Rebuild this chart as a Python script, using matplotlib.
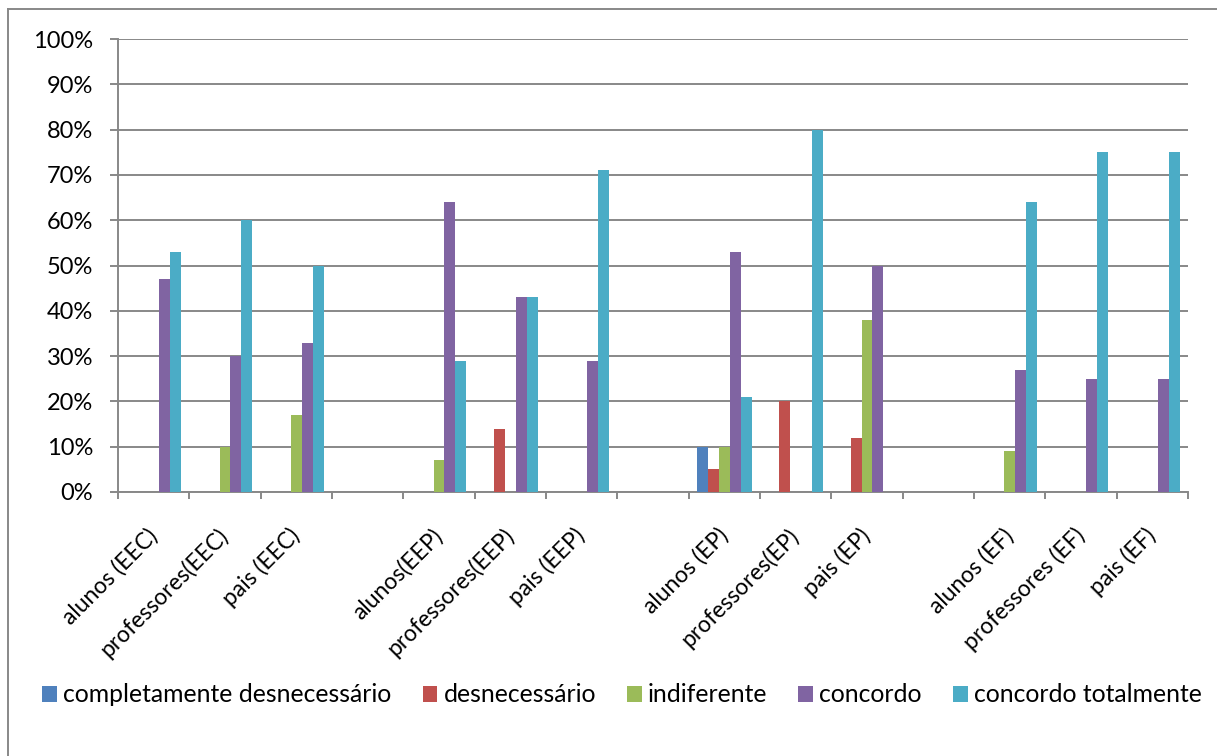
import matplotlib
matplotlib.use("Agg")
import matplotlib.pyplot as plt
import matplotlib.transforms as mtransforms
import numpy as np
from matplotlib.lines import Line2D
from matplotlib.patches import Patch

plt.rcParams['font.family'] = ['Lato', 'DejaVu Sans']

categories = ["alunos (EEC)", "professores(EEC)", "pais (EEC)", "",
              "alunos(EEP)", "professores(EEP)", "pais (EEP)", "",
              "alunos (EP)", "professores(EP)", "pais (EP)", "",
              "alunos (EF)", "professores (EF)", "pais (EF)"]

series_names = ["completamente desnecessário", "desnecessário", "indiferente",
                "concordo", "concordo totalmente"]

completamente_desnecessario = [0, 0, 0, 0, 0, 0, 0, 0, 10, 0, 0, 0, 0, 0, 0]
desnecessario = [0, 0, 0, 0, 0, 14, 0, 0, 5, 20, 12, 0, 0, 0, 0]
indiferente = [0, 10, 17, 0, 7, 0, 0, 0, 10, 0, 38, 0, 9, 0, 0]
concordo = [47, 30, 33, 0, 64, 43, 29, 0, 53, 0, 50, 0, 27, 25, 25]
concordo_totalmente = [53, 60, 50, 0, 29, 43, 71, 0, 21, 80, 0, 0, 64, 75, 75]

series_values = [completamente_desnecessario, desnecessario, indiferente,
                 concordo, concordo_totalmente]
colors = ["#4F81BD", "#C0504D", "#9BBB59", "#8064A2", "#4BACC6"]

W, H = 1217, 756
fig = plt.figure(figsize=(W / 100, H / 100), dpi=100)
ax = fig.add_axes([118 / W, 1 - 492 / H, (1188 - 118) / W, (492 - 39) / H])

n = len(categories)
x = np.arange(n)
bw = 1 / 6.5
for i, (vals, c) in enumerate(zip(series_values, colors)):
    ax.bar(x + (i - 2) * bw, vals, width=bw, color=c, edgecolor='none', zorder=3)

ax.set_xlim(-0.5, n - 0.5)
ax.set_ylim(0, 100)

grid_c = "#888888"
ax.set_yticks(np.arange(0, 101, 10))
ax.set_yticklabels([f"{v}%" for v in range(0, 101, 10)], fontsize=17)
ax.yaxis.grid(True, color=grid_c, linewidth=1.4, zorder=1)
ax.set_axisbelow(True)
ax.tick_params(axis='y', length=6, width=1.4, color=grid_c, pad=12)

ax.set_xticks(x)
ax.set_xticklabels(categories, rotation=45, ha='right', va='center',
                   rotation_mode='anchor', fontsize=16.5)
offset = mtransforms.ScaledTranslation(11 / 100, 0, fig.dpi_scale_trans)
for lbl in ax.get_xticklabels():
    lbl.set_transform(lbl.get_transform() + offset)
ax.set_xticks(np.arange(-0.5, n, 1), minor=True)
ax.tick_params(axis='x', which='major', length=0, pad=29)
ax.tick_params(axis='x', which='minor', length=5, width=1.4, color=grid_c)

for s in ['top', 'right']:
    ax.spines[s].set_visible(False)
for s in ['left', 'bottom']:
    ax.spines[s].set_color(grid_c)
    ax.spines[s].set_linewidth(1.4)

# legend
handles = [Patch(facecolor=c, edgecolor='none') for c in colors]
fig.legend(handles, series_names, loc='center', bbox_to_anchor=(622 / W, 1 - 695 / H),
           ncol=5, frameon=False, fontsize=17.8, handlelength=0.6, handleheight=0.6,
           handletextpad=0.25, columnspacing=1.25, borderaxespad=0, borderpad=0)

# chart border
fig.add_artist(Line2D([8 / W, 8 / W], [0, 1 - 9 / H], color=grid_c, linewidth=1.4,
                      transform=fig.transFigure))
fig.add_artist(Line2D([8 / W, 1], [1 - 9 / H, 1 - 9 / H], color=grid_c, linewidth=1.4,
                      transform=fig.transFigure))

fig.savefig("out.png", dpi=100)
